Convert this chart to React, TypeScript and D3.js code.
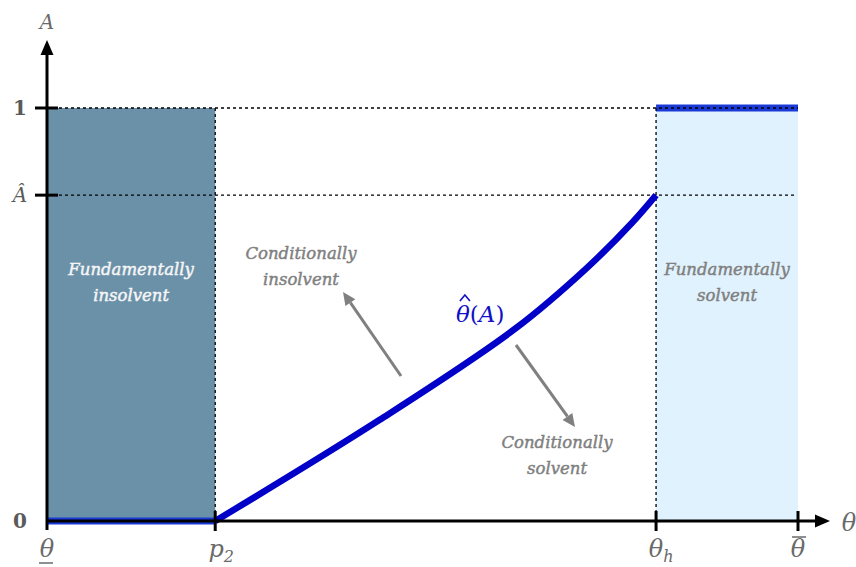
import React, { useEffect, useRef } from "react";
import * as d3 from "d3";

// positions along theta (0 = theta lower bound, 1 = theta upper bound)
const thetaLabels = ["θ_low", "p2", "θh", "θ_bar"];
const thetaValues = [0, 0.224, 0.811, 1];
const aLabels = ["0", "Â", "1"];
const aValues = [0, 0.789, 1];

// theta-hat(A) boundary
const curveTheta = [0.224, 0.443, 0.623, 0.719, 0.78, 0.811];
const curveA = [0, 0.245, 0.465, 0.613, 0.724, 0.789];

const W = 856;
const H = 567;
const FONT = "'DejaVu Serif', 'Liberation Serif', serif";

const App = () => {
  const svgRef = useRef<SVGSVGElement>(null);

  useEffect(() => {
    const svg = d3.select(svgRef.current);
    svg.selectAll("*").remove();

    const x = d3.scaleLinear().domain([0, 1]).range([47, 798]);
    const y = d3.scaleLinear().domain([0, 1]).range([521, 108]);
    const [t0, p2, th, t1] = thetaValues;
    const aHat = aValues[1];

    // regions
    svg.append("rect")
      .attr("x", x(t0)).attr("y", y(1))
      .attr("width", x(p2) - x(t0)).attr("height", y(0) - y(1))
      .attr("fill", "#6b91a9");
    svg.append("rect")
      .attr("x", x(th)).attr("y", y(1))
      .attr("width", x(t1) - x(th)).attr("height", y(0) - y(1))
      .attr("fill", "#e0f2fe");

    // blue boundary pieces
    svg.append("line")
      .attr("x1", x(t0)).attr("x2", x(p2)).attr("y1", y(0)).attr("y2", y(0))
      .attr("stroke", "#1a3ad8").attr("stroke-width", 7);
    svg.append("line")
      .attr("x1", x(th)).attr("x2", x(t1)).attr("y1", y(1)).attr("y2", y(1))
      .attr("stroke", "#1a3ad8").attr("stroke-width", 7);

    // dotted guides
    const dot = (x1, y1, x2, y2) =>
      svg.append("line")
        .attr("x1", x1).attr("y1", y1).attr("x2", x2).attr("y2", y2)
        .attr("stroke", "#000").attr("stroke-width", 1.3)
        .attr("stroke-dasharray", "3,3");
    dot(x(t0), y(1), x(t1), y(1));
    dot(x(t0), y(aHat), x(t1) - 3, y(aHat));
    dot(x(p2), y(1), x(p2), y(0));
    dot(x(th), y(1), x(th), y(0));

    // curve
    const pts = curveTheta.map((t, i) => [t, curveA[i]]);
    svg.append("path")
      .datum(pts)
      .attr("d", d3.line().x((d) => x(d[0])).y((d) => y(d[1])).curve(d3.curveCatmullRom))
      .attr("fill", "none")
      .attr("stroke", "#0000c8")
      .attr("stroke-width", 6.5);

    // axes
    svg.append("line")
      .attr("x1", x(t0)).attr("x2", 818).attr("y1", y(0)).attr("y2", y(0))
      .attr("stroke", "#000").attr("stroke-width", 3);
    svg.append("path")
      .attr("d", `M830,${y(0)} L815,${y(0) - 6.5} L815,${y(0) + 6.5} Z`)
      .attr("fill", "#000");
    svg.append("line")
      .attr("x1", x(t0)).attr("x2", x(t0)).attr("y1", y(0) + 9).attr("y2", 52)
      .attr("stroke", "#000").attr("stroke-width", 3);
    svg.append("path")
      .attr("d", `M${x(t0)},40 L${x(t0) - 6.5},55 L${x(t0) + 6.5},55 Z`)
      .attr("fill", "#000");

    // ticks
    svg.append("g").selectAll("line")
      .data(thetaValues.slice(1))
      .join("line")
      .attr("x1", (d) => x(d)).attr("x2", (d) => x(d))
      .attr("y1", y(0) - 10).attr("y2", y(0) + 10)
      .attr("stroke", "#000").attr("stroke-width", 3);
    svg.append("g").selectAll("line")
      .data(aValues.slice(1))
      .join("line")
      .attr("x1", 35).attr("x2", 58)
      .attr("y1", (d) => y(d)).attr("y2", (d) => y(d))
      .attr("stroke", "#000").attr("stroke-width", 3);

    // y tick labels
    svg.append("g").selectAll("text")
      .data(aValues)
      .join("text")
      .attr("x", 20).attr("y", (d) => y(d) + 7)
      .attr("text-anchor", "middle")
      .attr("font-family", FONT)
      .attr("font-size", 20)
      .attr("font-weight", (d, i) => (aLabels[i] === "Â" ? "normal" : "bold"))
      .attr("font-style", (d, i) => (aLabels[i] === "Â" ? "italic" : "normal"))
      .attr("fill", "#5a5a5a")
      .text((d, i) => aLabels[i]);

    // x tick labels
    const gray = "#6a6a6a";
    const lab = (xp, txt, sub) => {
      const t = svg.append("text")
        .attr("x", xp).attr("y", 557)
        .attr("text-anchor", "middle")
        .attr("font-family", FONT)
        .attr("font-size", 24)
        .attr("font-style", "italic")
        .attr("fill", gray);
      t.append("tspan").text(txt);
      if (sub) t.append("tspan").attr("font-size", 16).attr("dy", 5).text(sub);
      return t;
    };
    lab(x(t0), "θ");
    svg.append("line").attr("x1", x(t0) - 8).attr("x2", x(t0) + 6)
      .attr("y1", 563).attr("y2", 563).attr("stroke", gray).attr("stroke-width", 1.5);
    lab(x(p2) + 6, "p", "2");
    lab(x(th) + 5, "θ", "h");
    lab(x(t1), "θ");
    svg.append("line").attr("x1", x(t1) - 6).attr("x2", x(t1) + 8)
      .attr("y1", 537).attr("y2", 537).attr("stroke", gray).attr("stroke-width", 1.5);

    // axis titles
    svg.append("text").attr("x", 47).attr("y", 29).attr("text-anchor", "middle")
      .attr("font-family", FONT).attr("font-size", 20).attr("font-style", "italic")
      .attr("fill", gray).text("A");
    svg.append("text").attr("x", 849).attr("y", 531).attr("text-anchor", "middle")
      .attr("font-family", FONT).attr("font-size", 24).attr("font-style", "italic")
      .attr("fill", gray).text("θ");

    // region labels
    const twoLine = (cx, cy, a, b, fill) => {
      const t = svg.append("text")
        .attr("text-anchor", "middle")
        .attr("font-family", FONT)
        .attr("font-size", 16.5)
        .attr("font-style", "italic")
        .attr("fill", fill)
        .attr("stroke", fill)
        .attr("stroke-width", 0.45);
      t.append("tspan").attr("x", cx).attr("y", cy).text(a);
      t.append("tspan").attr("x", cx).attr("y", cy + 26).text(b);
    };
    twoLine(x((t0 + p2) / 2), 275, "Fundamentally", "insolvent", "#f6f6f6");
    twoLine(x((th + t1) / 2), 275, "Fundamentally", "solvent", "#808080");
    twoLine(301, 259, "Conditionally", "insolvent", "#808080");
    twoLine(557, 448, "Conditionally", "solvent", "#808080");

    // annotation arrows
    const arrow = (x1, y1, x2, y2) => {
      const ang = Math.atan2(y2 - y1, x2 - x1);
      const len = 13;
      const bx = x2 - len * Math.cos(ang);
      const by = y2 - len * Math.sin(ang);
      svg.append("line").attr("x1", x1).attr("y1", y1).attr("x2", bx).attr("y2", by)
        .attr("stroke", "#808080").attr("stroke-width", 3);
      const px = 6 * Math.sin(ang);
      const py = -6 * Math.cos(ang);
      svg.append("path")
        .attr("d", `M${x2},${y2} L${bx + px},${by + py} L${bx - px},${by - py} Z`)
        .attr("fill", "#808080");
    };
    arrow(401, 376, 343, 292);
    arrow(516, 345, 575, 427);

    // curve label
    const blue = "#1010c8";
    const cl = svg.append("text").attr("x", 456).attr("y", 322)
      .attr("font-family", FONT).attr("font-size", 23).attr("fill", blue);
    cl.append("tspan").attr("font-style", "italic").text("θ");
    cl.append("tspan").text("(");
    cl.append("tspan").attr("font-style", "italic").text("A");
    cl.append("tspan").text(")");
    let hx = 466;
    try {
      const ext = (cl.node() as any).getExtentOfChar(0);
      hx = ext.x + ext.width / 2 + 2;
    } catch (e) {}
    svg.append("path")
      .attr("d", `M${hx - 5},301 L${hx},295 L${hx + 5},301`)
      .attr("fill", "none").attr("stroke", blue).attr("stroke-width", 1.6);
  }, []);

  return (
    <div style={{ position: "fixed", left: 0, top: 0 }}>
      <svg ref={svgRef} width={W} height={H} style={{ display: "block", background: "#fff" }} />
    </div>
  );
};

export default App;
